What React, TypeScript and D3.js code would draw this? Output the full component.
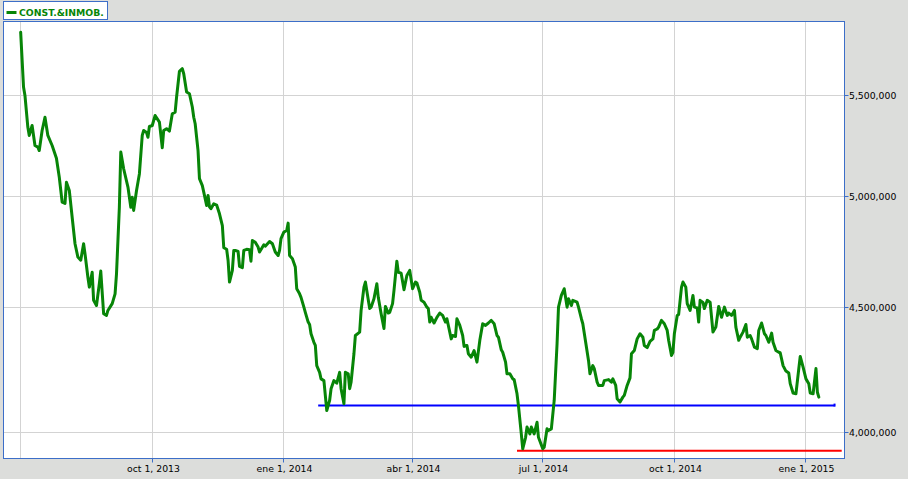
import * as d3 from "d3";

const seriesName = "CONST.&INMOB.";
const firstDay = Date.UTC(2013, 6, 1);

// [days since jul 1 2013, close in thousands]
const closes: [number, number][] = [
  [0, 5839], [2, 5544], [3, 5500], [5, 5338], [6, 5296], [8, 5346], [10, 5246], [12, 5238],
  [13, 5221], [15, 5321], [17, 5388], [19, 5296], [22, 5246], [25, 5183], [27, 5091], [29, 4973],
  [31, 4967], [32, 5067], [34, 5028], [36, 4902], [38, 4781], [40, 4721], [42, 4707], [44, 4781],
  [45, 4735], [47, 4632], [48, 4589], [50, 4654], [51, 4532], [53, 4510], [55, 4604], [56, 4659],
  [58, 4475], [60, 4468], [61, 4489], [64, 4518], [66, 4560], [67, 4647], [69, 4949], [70, 5214],
  [72, 5132], [75, 5044], [77, 4949], [78, 4996], [79, 4934], [81, 5028], [83, 5107], [85, 5296],
  [86, 5321], [88, 5311], [89, 5287], [90, 5341], [92, 5346], [94, 5397], [97, 5363], [99, 5235],
  [100, 5321], [102, 5330], [104, 5318], [106, 5406], [108, 5414], [109, 5491], [111, 5627], [113, 5641],
  [114, 5614], [116, 5518], [118, 5509], [120, 5440], [121, 5388], [122, 5355], [124, 5221], [125, 5084],
  [127, 5051], [128, 5020], [130, 4957], [131, 5004], [132, 4951], [133, 4942], [135, 4965], [137, 4959],
  [139, 4918], [141, 4864], [142, 4763], [144, 4756], [145, 4707], [146, 4611], [148, 4662], [149, 4751],
  [150, 4751], [152, 4746], [153, 4680], [155, 4674], [156, 4751], [158, 4756], [160, 4754], [161, 4703],
  [162, 4796], [164, 4788], [166, 4766], [167, 4744], [170, 4776], [171, 4770], [174, 4791], [176, 4781],
  [178, 4744], [180, 4728], [181, 4751], [182, 4804], [184, 4834], [186, 4841], [187, 4875], [188, 4728],
  [190, 4714], [192, 4677], [193, 4582], [195, 4560], [196, 4545], [198, 4503], [199, 4481], [201, 4440],
  [202, 4430], [203, 4391], [205, 4356], [206, 4343], [207, 4261], [209, 4234], [210, 4208], [212, 4201],
  [214, 4084], [216, 4123], [217, 4169], [219, 4201], [221, 4191], [223, 4234], [224, 4169], [226, 4110],
  [227, 4234], [229, 4228], [230, 4169], [231, 4195], [233, 4309], [234, 4384], [237, 4398], [238, 4489],
  [240, 4589], [241, 4611], [244, 4497], [245, 4503], [247, 4539], [249, 4604], [250, 4545], [252, 4475],
  [254, 4413], [255, 4506], [257, 4478], [258, 4481], [260, 4518], [261, 4575], [263, 4703], [264, 4654],
  [266, 4650], [268, 4578], [270, 4640], [272, 4662], [274, 4582], [276, 4611], [277, 4607], [279, 4567],
  [280, 4532], [282, 4524], [284, 4503], [285, 4497], [286, 4440], [287, 4460], [289, 4436], [291, 4460],
  [293, 4478], [295, 4468], [297, 4440], [298, 4454], [301, 4370], [302, 4384], [304, 4380], [305, 4454],
  [307, 4426], [309, 4384], [310, 4339], [312, 4343], [313, 4309], [315, 4295], [317, 4322], [319, 4275],
  [321, 4364], [323, 4433], [325, 4426], [327, 4436], [329, 4447], [331, 4433], [333, 4384], [334, 4377],
  [336, 4325], [337, 4315], [339, 4275], [340, 4228], [342, 4228], [344, 4208], [345, 4205], [347, 4149],
  [348, 4103], [350, 3995], [351, 3939], [353, 3982], [354, 4021], [356, 3995], [357, 4021], [359, 3995],
  [361, 4039], [362, 3982], [365, 3939], [366, 3945], [368, 4014], [369, 4008], [371, 4014], [373, 4123],
  [375, 4350], [376, 4503], [378, 4553], [380, 4582], [382, 4503], [383, 4539], [385, 4510], [386, 4532],
  [389, 4524], [390, 4503], [392, 4454], [393, 4433], [395, 4356], [397, 4281], [398, 4228], [400, 4261],
  [401, 4249], [403, 4195], [404, 4182], [407, 4182], [408, 4201], [411, 4205], [413, 4195], [414, 4208],
  [416, 4182], [417, 4130], [419, 4117], [421, 4136], [422, 4143], [424, 4182], [426, 4212], [427, 4309],
  [429, 4322], [431, 4370], [433, 4391], [435, 4377], [436, 4343], [438, 4334], [440, 4360], [442, 4370],
  [443, 4405], [445, 4411], [446, 4419], [448, 4447], [450, 4433], [452, 4405], [453, 4364], [455, 4302],
  [456, 4315], [457, 4391], [459, 4468], [460, 4472], [462, 4589], [463, 4611], [465, 4589], [466, 4518],
  [468, 4489], [470, 4553], [471, 4503], [473, 4500], [474, 4440], [475, 4532], [477, 4523], [478, 4497],
  [480, 4532], [482, 4524], [484, 4398], [486, 4419], [488, 4506], [490, 4460], [492, 4503], [494, 4468],
  [495, 4478], [497, 4468], [499, 4489], [500, 4419], [502, 4364], [503, 4377], [505, 4398], [507, 4430],
  [508, 4377], [510, 4384], [511, 4370], [513, 4336], [515, 4330], [516, 4405], [518, 4436], [520, 4391],
  [521, 4384], [523, 4356], [525, 4394], [526, 4356], [528, 4322], [530, 4315], [531, 4313], [533, 4261],
  [535, 4239], [537, 4231], [538, 4189], [540, 4152], [542, 4149], [544, 4249], [545, 4298], [547, 4255],
  [549, 4208], [551, 4189], [552, 4152], [554, 4149], [556, 4249], [557, 4155], [558, 4136],
];

const yTickValues = [4000000, 4500000, 5000000, 5500000];

// horizontal support levels
const levelValues = [4103000, 3932000];
const levelFromDay = [208, 347];
const levelToDay = [569, 574];
const levelColors = ["#0000ff", "#ff0000"];

const esLocale = d3.timeFormatLocale({
  dateTime: "%A, %e de %B de %Y, %X",
  date: "%d/%m/%Y",
  time: "%H:%M:%S",
  periods: ["AM", "PM"],
  days: ["domingo", "lunes", "martes", "miércoles", "jueves", "viernes", "sábado"],
  shortDays: ["dom", "lun", "mar", "mié", "jue", "vie", "sáb"],
  months: ["enero", "febrero", "marzo", "abril", "mayo", "junio", "julio", "agosto", "septiembre", "octubre", "noviembre", "diciembre"],
  shortMonths: ["ene", "feb", "mar", "abr", "may", "jun", "jul", "ago", "sep", "oct", "nov", "dic"],
});
const formatDate = esLocale.utcFormat("%b %-d, %Y");
const formatValue = d3.format(",");

const dayToDate = (d: number) => new Date(firstDay + d * 864e5);

export default function App() {
  const width = 908;
  const height = 479;
  const plot = { left: 3.5, top: 21.5, right: 844.5, bottom: 458.5 };
  const font = "'DejaVu Sans', Verdana, sans-serif";
  const frame = "#3c6ec8";
  const green = "#078507";

  const x = d3
    .scaleUtc()
    .domain([dayToDate(-12), dayToDate(575.6)])
    .range([plot.left, 844]);

  // the price axis is logarithmic
  const y = d3
    .scaleLog()
    .domain([3903000, 5898000])
    .range([plot.bottom, plot.top]);

  const xTicks = x.ticks(d3.utcMonth.every(3)!);

  const line = d3
    .line<[number, number]>()
    .x((d) => x(dayToDate(d[0])))
    .y((d) => y(d[1] * 1000));

  return (
    <div style={{ position: "absolute", left: 0, top: 0 }}>
      <svg width={width} height={height} style={{ display: "block" }}>
        <rect x={0} y={0} width={width} height={height} fill="#dcdddb" />

        <rect
          x={plot.left}
          y={plot.top}
          width={plot.right - plot.left}
          height={plot.bottom - plot.top}
          fill="#ffffff"
        />

        {yTickValues.map((t) => {
          const ty = Math.floor(y(t)) + 0.5;
          return (
            <g key={t}>
              <line x1={plot.left} x2={plot.right} y1={ty} y2={ty} stroke="#d3d3d3" strokeWidth={1} />
              <line x1={plot.right} x2={plot.right + 4} y1={ty} y2={ty} stroke={frame} strokeWidth={1} />
              <text x={849} y={ty} dy="0.36em" fontFamily={font} fontSize={9.3} fill="#000">
                {formatValue(t)}
              </text>
            </g>
          );
        })}

        {xTicks.map((t) => {
          const tx = Math.floor(x(t)) + 0.5;
          const showLabel = tx - 28 > plot.left;
          return (
            <g key={t.getTime()}>
              <line x1={tx} x2={tx} y1={plot.top} y2={plot.bottom} stroke="#d3d3d3" strokeWidth={1} />
              {showLabel && (
                <>
                  <line x1={tx} x2={tx} y1={plot.bottom} y2={plot.bottom + 4} stroke={frame} strokeWidth={1} />
                  <text x={tx + 1} y={472} textAnchor="middle" fontFamily={font} fontSize={9.3} fill="#000">
                    {formatDate(t)}
                  </text>
                </>
              )}
            </g>
          );
        })}

        {levelValues.map((v, i) => {
          const ly = y(v);
          return (
            <g key={v}>
              <line
                x1={x(dayToDate(levelFromDay[i]))}
                x2={x(dayToDate(levelToDay[i]))}
                y1={ly}
                y2={ly}
                stroke={levelColors[i]}
                strokeWidth={2}
              />
              {i === 0 && (
                <rect x={x(dayToDate(levelToDay[i])) - 1} y={ly - 2} width={2} height={3} fill={levelColors[i]} />
              )}
            </g>
          );
        })}

        <path
          d={line(closes) ?? ""}
          fill="none"
          stroke={green}
          strokeWidth={3}
          strokeLinejoin="round"
          strokeLinecap="round"
        />

        <rect
          x={plot.left}
          y={plot.top}
          width={plot.right - plot.left}
          height={plot.bottom - plot.top}
          fill="none"
          stroke={frame}
          strokeWidth={1}
        />

        {/* legend */}
        <rect x={3.5} y={1.5} width={104} height={18} fill="#ffffff" stroke={frame} strokeWidth={1} />
        <line x1={6.5} x2={16.5} y1={12.5} y2={12.5} stroke={green} strokeWidth={3} />
        <text x={19} y={15.8} fontFamily={font} fontSize={9.3} fontWeight="bold" fill={green}>
          {seriesName}
        </text>
      </svg>
    </div>
  );
}
